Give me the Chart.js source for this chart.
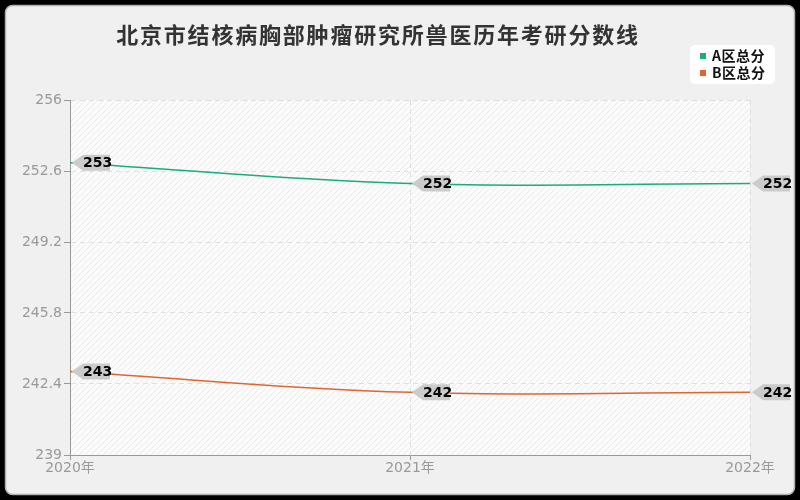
<!DOCTYPE html>
<html>
<head>
<meta charset="utf-8">
<script src="https://cdn.jsdelivr.net/npm/chart.js@4.4.1/dist/chart.umd.min.js"></script>
<style>
  html, body { margin: 0; padding: 0; background: #000; }
  #wrap { width: 800px; height: 500px; }
</style>
</head>
<body>
<div id="wrap"><canvas id="scoreChart" width="800" height="500"></canvas></div>
<script>
// chart data
const chartTitle = '北京市结核病胸部肿瘤研究所兽医历年考研分数线';
const years = ['2020年', '2021年', '2022年'];
const seriesNames = ['A区总分', 'B区总分'];
const scoreA = [253, 252, 252];
const scoreB = [243, 242, 242];
const yTicks = [239, 242.4, 245.8, 249.2, 252.6, 256];

const colors = ['#19ad7e', '#e2652f'];

// frame, title and hatched plot background
const backgroundPlugin = {
  id: 'backgroundPlugin',
  beforeDraw(chart) {
    const ctx = chart.ctx;
    const area = chart.chartArea;
    ctx.save();
    ctx.fillStyle = '#000';
    ctx.fillRect(0, 0, chart.width, chart.height);
    ctx.beginPath();
    ctx.roundRect(5.5, 5.5, 789, 489, 7);
    ctx.fillStyle = '#f0f0f0';
    ctx.fill();
    ctx.lineWidth = 1.5;
    ctx.strokeStyle = '#b0b0b0';
    ctx.stroke();

    // plot area with light diagonal hatch
    ctx.fillStyle = '#fbfbfb';
    ctx.fillRect(area.left, area.top, area.right - area.left, area.bottom - area.top);
    const tile = document.createElement('canvas');
    tile.width = 6;
    tile.height = 6;
    const t = tile.getContext('2d');
    t.strokeStyle = '#eaeaea';
    t.lineWidth = 1;
    t.beginPath();
    t.moveTo(0, 6);
    t.lineTo(6, 0);
    t.moveTo(-3, 3);
    t.lineTo(3, -3);
    t.moveTo(3, 9);
    t.lineTo(9, 3);
    t.stroke();
    ctx.fillStyle = ctx.createPattern(tile, 'repeat');
    ctx.fillRect(area.left, area.top, area.right - area.left, area.bottom - area.top);

    // title
    ctx.fillStyle = '#333';
    ctx.font = 'bold 22px "Noto Sans CJK SC", sans-serif';
    ctx.letterSpacing = '1.8px';
    ctx.textAlign = 'center';
    ctx.textBaseline = 'middle';
    ctx.fillText(chartTitle, 378, 35);
    ctx.restore();
  }
};

// value tags and legend
const labelPlugin = {
  id: 'labelPlugin',
  afterDatasetsDraw(chart) {
    const ctx = chart.ctx;
    ctx.save();
    chart.data.datasets.forEach((ds, i) => {
      const meta = chart.getDatasetMeta(i);
      meta.data.forEach((pt, j) => {
        const x = pt.x;
        const y = pt.y;
        ctx.beginPath();
        ctx.moveTo(x + 2, y);
        ctx.lineTo(x + 13, y - 8);
        ctx.lineTo(x + 40, y - 8);
        ctx.lineTo(x + 40, y + 8);
        ctx.lineTo(x + 13, y + 8);
        ctx.closePath();
        ctx.fillStyle = '#cbcbcb';
        ctx.fill();
        ctx.fillStyle = '#000';
        ctx.font = 'bold 14px "DejaVu Sans", sans-serif';
        ctx.textAlign = 'left';
        ctx.textBaseline = 'middle';
        ctx.fillText(String(ds.data[j]), x + 13, y + 1);
      });
    });

    // legend box
    ctx.beginPath();
    ctx.roundRect(690, 45, 85, 39, 5);
    ctx.fillStyle = '#fff';
    ctx.fill();
    seriesNames.forEach((name, i) => {
      const y = 56 + i * 17;
      ctx.fillStyle = colors[i];
      ctx.fillRect(700, y - 3, 6, 6);
      ctx.fillStyle = '#111';
      ctx.font = 'bold 14px "Noto Sans CJK SC", sans-serif';
      ctx.letterSpacing = '0.5px';
      ctx.textAlign = 'left';
      ctx.textBaseline = 'middle';
      ctx.fillText(name, 712, y);
    });
    ctx.restore();
  }
};

const config = {
  type: 'line',
  data: {
    labels: years,
    datasets: [
      {
        label: seriesNames[0],
        data: scoreA,
        borderColor: colors[0],
        backgroundColor: colors[0],
        borderWidth: 1.5,
        pointRadius: 0,
        tension: 0.4,
        clip: false
      },
      {
        label: seriesNames[1],
        data: scoreB,
        borderColor: colors[1],
        backgroundColor: colors[1],
        borderWidth: 1.5,
        pointRadius: 0,
        tension: 0.4,
        clip: false
      }
    ]
  },
  options: {
    responsive: false,
    animation: false,
    devicePixelRatio: 1,
    layout: { padding: { top: 100, right: 50, left: 0, bottom: 0 } },
    plugins: {
      legend: { display: false },
      title: { display: false },
      tooltip: { enabled: false }
    },
    scales: {
      x: {
        type: 'category',
        offset: false,
        afterFit(scale) { scale.height = 45; },
        grid: {
          color: '#e0e0e0',
          tickColor: '#999',
          tickLength: 5,
          drawOnChartArea: true
        },
        border: { color: '#999', width: 1, dash: [5, 4] },
        ticks: {
          color: '#999',
          font: { size: 14, family: '"DejaVu Sans", "Noto Sans CJK SC", sans-serif' },
          padding: 0,
          maxRotation: 0
        }
      },
      y: {
        min: 239,
        max: 256,
        afterFit(scale) { scale.width = 70; },
        afterBuildTicks(scale) {
          scale.ticks = yTicks.map(v => ({ value: v }));
        },
        grid: {
          color: '#e0e0e0',
          tickColor: '#999',
          tickLength: 6
        },
        border: { color: '#999', width: 1, dash: [5, 4] },
        ticks: {
          color: '#999',
          font: { size: 14, family: '"DejaVu Sans", sans-serif' },
          padding: 2,
          callback: value => String(value)
        }
      }
    }
  },
  plugins: [backgroundPlugin, labelPlugin]
};

new Chart(document.getElementById('scoreChart'), config);
</script>
</body>
</html>
